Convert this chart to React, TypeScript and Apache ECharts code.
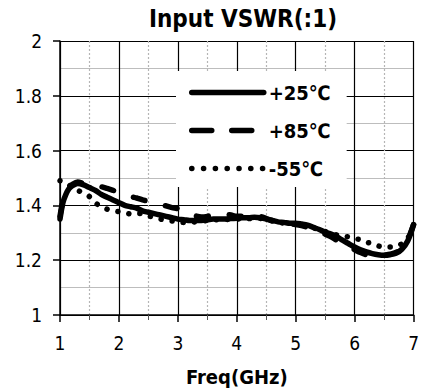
import React, { useEffect, useRef } from "react";
import * as echarts from "echarts";

const FONT = '"DejaVu Sans Condensed", "DejaVu Sans", sans-serif';

const titleText = "Input VSWR(:1)";
const xAxisName = "Freq(GHz)";
const seriesNames = ["+25℃", "+85℃", "-55℃"];

const freq = [
  1.0, 1.05, 1.1, 1.15, 1.2, 1.3, 1.4, 1.5, 1.6, 1.7, 1.8, 1.9, 2.0, 2.1, 2.2, 2.3, 2.4, 2.5,
  2.6, 2.7, 2.8, 2.9, 3.0, 3.1, 3.2, 3.3, 3.4, 3.5, 3.6, 3.7, 3.8, 3.9, 4.0, 4.1, 4.2, 4.3,
  4.4, 4.5, 4.6, 4.7, 4.8, 4.9, 5.0, 5.1, 5.2, 5.3, 5.4, 5.5, 5.6, 5.7, 5.8, 5.9, 6.0, 6.1,
  6.2, 6.3, 6.4, 6.5, 6.6, 6.7, 6.8, 6.9, 7.0,
];

const vswr25 = [
  1.35, 1.41, 1.44, 1.46, 1.47, 1.48, 1.475, 1.465, 1.455, 1.44, 1.43, 1.42, 1.41, 1.4, 1.395,
  1.39, 1.38, 1.375, 1.37, 1.365, 1.36, 1.355, 1.35, 1.348, 1.345, 1.345, 1.345, 1.347, 1.35,
  1.35, 1.35, 1.352, 1.353, 1.355, 1.355, 1.357, 1.355, 1.35, 1.345, 1.34, 1.338, 1.335, 1.335,
  1.332, 1.328, 1.32, 1.312, 1.302, 1.295, 1.285, 1.272, 1.26, 1.248, 1.238, 1.23, 1.224, 1.22,
  1.218, 1.22, 1.225, 1.24, 1.27, 1.33,
];

const vswr85 = [
  1.36, 1.42, 1.45, 1.465, 1.475, 1.485, 1.48, 1.475, 1.47, 1.468, 1.462, 1.455, 1.447, 1.44,
  1.432, 1.427, 1.42, 1.415, 1.41, 1.405, 1.398, 1.392, 1.388, 1.378, 1.37, 1.362, 1.358, 1.36,
  1.365, 1.368, 1.368, 1.365, 1.36, 1.36, 1.362, 1.365, 1.36, 1.352, 1.345, 1.34, 1.335, 1.332,
  1.33, 1.326, 1.32, 1.312, 1.305, 1.295, 1.285, 1.272, 1.26, 1.248, 1.238, 1.228, 1.22, 1.214,
  1.214, 1.218, 1.222, 1.228, 1.245, 1.275, 1.33,
];

const vswrM55 = [
  1.49, 1.487, 1.48, 1.474, 1.468, 1.455, 1.445, 1.432, 1.41, 1.394, 1.386, 1.38, 1.377, 1.373,
  1.369, 1.37, 1.37, 1.362, 1.356, 1.35, 1.346, 1.343, 1.34, 1.338, 1.338, 1.34, 1.342, 1.345,
  1.347, 1.348, 1.348, 1.35, 1.35, 1.352, 1.352, 1.353, 1.352, 1.348, 1.343, 1.338, 1.335,
  1.332, 1.332, 1.328, 1.324, 1.318, 1.312, 1.305, 1.298, 1.292, 1.288, 1.285, 1.28, 1.274,
  1.266, 1.26, 1.252, 1.248, 1.248, 1.25, 1.26, 1.28, 1.32,
];

const yTicks = { min: 1, max: 2, interval: 0.2 };
const xTicks = { min: 1, max: 7, interval: 1 };

export default function App() {
  const ref = useRef<HTMLDivElement>(null);
  useEffect(() => {
    if (!ref.current) return;
    document.body.style.margin = "0";
    document.body.style.overflow = "hidden";
    const chart = echarts.init(ref.current, null, { renderer: "svg" });
    const pairs = (vals: number[]) => freq.map((f, i) => [f, vals[i]]);
    const dashSeries = [12, 21];
    const dotSeries = [0.1, 11];
    chart.setOption({
      animation: false,
      backgroundColor: "#fff",
      textStyle: { fontFamily: FONT },
      title: {
        text: titleText,
        left: 238,
        top: 2,
        textAlign: "center",
        textStyle: { fontFamily: FONT, fontSize: 24, fontWeight: "bold", color: "#000" },
      },
      grid: { left: 60, right: 7, top: 41, bottom: 77, containLabel: false },
      legend: {
        orient: "vertical",
        left: 176,
        top: 71,
        padding: [11, 16, 8, 13],
        backgroundColor: "#fff",
        itemWidth: 72,
        itemHeight: 6,
        itemGap: 17,
        itemStyle: { opacity: 0 },
        textStyle: {
          fontFamily: FONT,
          fontSize: 20,
          fontWeight: "bold",
          color: "#000",
          lineHeight: 21,
        },
        data: [
          { name: seriesNames[0], lineStyle: { type: "solid", width: 5.5, cap: "round" } },
          { name: seriesNames[1], lineStyle: { type: [20, 20], width: 5.5, cap: "round" } },
          { name: seriesNames[2], lineStyle: { type: [0.1, 11.7], width: 5.5, cap: "round" } },
        ],
      },
      xAxis: {
        type: "value",
        min: xTicks.min,
        max: xTicks.max,
        interval: xTicks.interval,
        name: xAxisName,
        nameLocation: "middle",
        nameGap: 52,
        nameTextStyle: { fontFamily: FONT, fontSize: 20, fontWeight: "bold", color: "#000" },
        axisLine: { show: true, onZero: false, lineStyle: { color: "#000", width: 1.5 } },
        axisTick: { show: true, inside: false, length: 7, lineStyle: { color: "#000", width: 1.5 } },
        minorTick: { show: true, splitNumber: 2, length: 5, lineStyle: { color: "#555", width: 1 } },
        axisLabel: { fontFamily: FONT, fontSize: 19, color: "#000", margin: 18 },
        splitLine: { show: true, lineStyle: { color: "#000", width: 1.2 } },
        minorSplitLine: { show: true, lineStyle: { color: "#b5b5b5", width: 1.2, type: [2, 2] } },
      },
      yAxis: {
        type: "value",
        min: yTicks.min,
        max: yTicks.max,
        interval: yTicks.interval,
        axisLine: { show: true, onZero: false, lineStyle: { color: "#000", width: 1.5 } },
        axisTick: { show: true, inside: false, length: 7, lineStyle: { color: "#000", width: 1.5 } },
        minorTick: { show: false, splitNumber: 2 },
        axisLabel: {
          fontFamily: FONT,
          fontSize: 19,
          color: "#000",
          margin: 18,
          formatter: (v: number) => String(Number(v.toFixed(1))),
        },
        splitLine: { show: true, lineStyle: { color: "#000", width: 1.2 } },
        minorSplitLine: { show: true, lineStyle: { color: "#bdbdbd", width: 1.2 } },
      },
      series: [
        {
          name: seriesNames[0],
          type: "line",
          data: pairs(vswr25),
          symbol: "none",
          smooth: 0.3,
          lineStyle: { color: "#000", width: 5.5, type: "solid", cap: "round", join: "round" },
          itemStyle: { color: "#000" },
          z: 4,
        },
        {
          name: seriesNames[1],
          type: "line",
          data: pairs(vswr85),
          symbol: "none",
          smooth: 0.3,
          lineStyle: { color: "#000", width: 5.5, type: dashSeries, cap: "round", join: "round" },
          itemStyle: { color: "#000" },
          z: 3,
        },
        {
          name: seriesNames[2],
          type: "line",
          data: pairs(vswrM55),
          symbol: "none",
          smooth: 0.3,
          lineStyle: { color: "#000", width: 5.5, type: dotSeries, cap: "round", join: "round" },
          itemStyle: { color: "#000" },
          z: 2,
        },
      ],
    });
    return () => chart.dispose();
  }, []);
  return <div ref={ref} style={{ width: 422, height: 392 }} />;
}
